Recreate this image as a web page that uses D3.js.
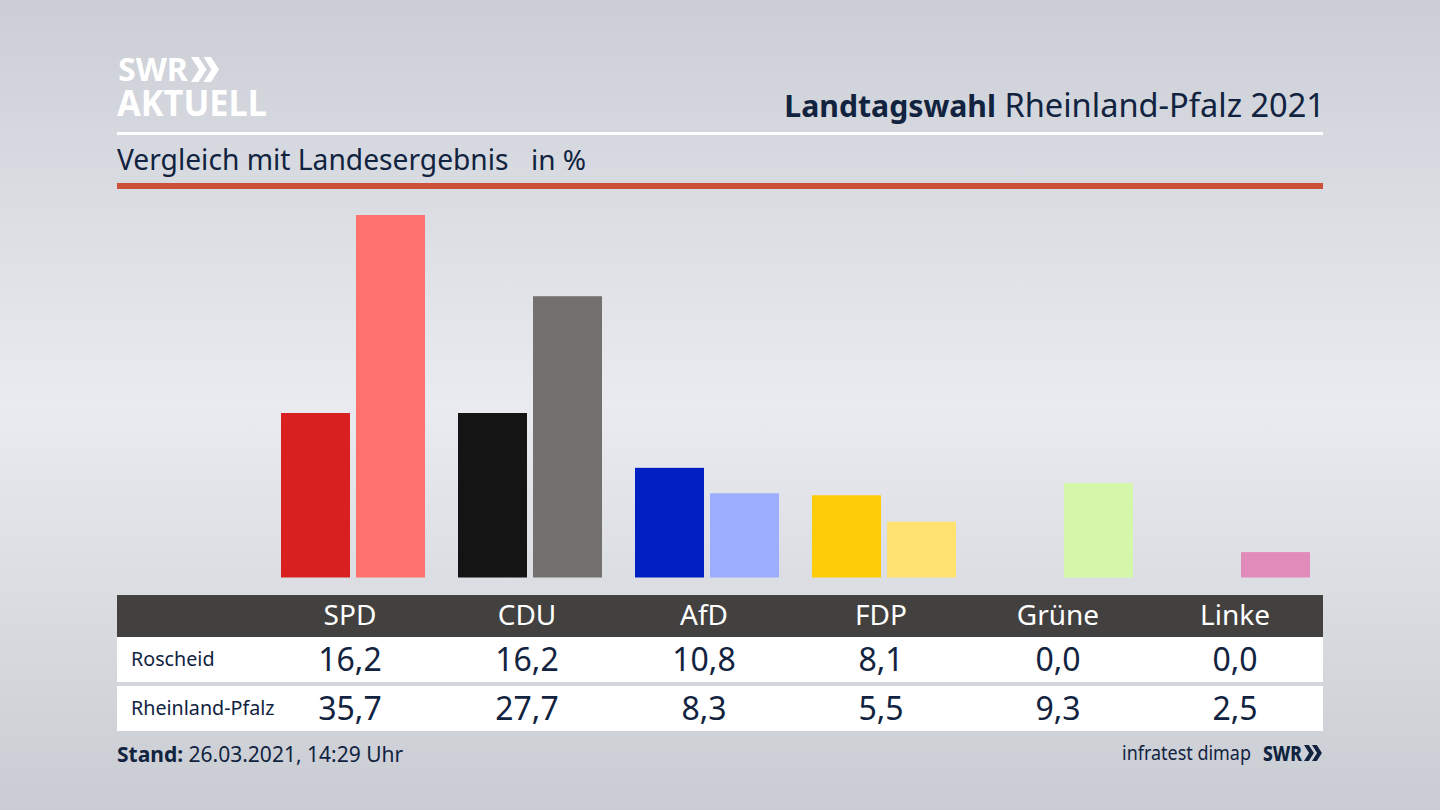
<!DOCTYPE html>
<html>
<head>
<meta charset="utf-8">
<script src="https://cdn.jsdelivr.net/npm/d3@7"></script>
<style>
html, body { margin: 0; padding: 0; background: #dfe1e6; }
svg { display: block; }
text { font-family: "Noto Sans", sans-serif; fill: #11233f; }
</style>
</head>
<body>
<svg id="chart" width="1440" height="810"></svg>
<script>
// Values
var parties = ["SPD", "CDU", "AfD", "FDP", "Grüne", "Linke"];
var rowNames = ["Roscheid", "Rheinland-Pfalz"];
var roscheid = [16.2, 16.2, 10.8, 8.1, 0.0, 0.0];
var landesergebnis = [35.7, 27.7, 8.3, 5.5, 9.3, 2.5];
var colorsDark = ["#d7201f", "#141414", "#0020c4", "#ffcc0a", "#8fd14f", "#c0307f"];
var colorsLight = ["#ff716d", "#73716f", "#9eaeff", "#ffe26f", "#d4f7aa", "#e08bb9"];

var svg = d3.select("#chart");

// background gradient
var defs = svg.append("defs");
var grad = defs.append("linearGradient").attr("id", "bg").attr("x1", 0).attr("y1", 0).attr("x2", 0).attr("y2", 1);
grad.append("stop").attr("offset", "0%").attr("stop-color", "#cbced5");
grad.append("stop").attr("offset", "50%").attr("stop-color", "#e9ebf0");
grad.append("stop").attr("offset", "100%").attr("stop-color", "#c9ccd2");
svg.append("rect").attr("width", 1440).attr("height", 810).attr("fill", "url(#bg)");

// scales
var x = d3.scaleBand().domain(parties).range([262, 1324]);
var xInner = d3.scaleBand().domain([0, 1]).range([19, 163]).paddingInner(0.08);
var y = d3.scaleLinear().domain([0, 35.7]).range([577.5, 215]);

// header
svg.append("text").attr("x", 118).attr("y", 81).attr("font-size", 33).attr("font-weight", 700)
  .attr("textLength", 70).attr("lengthAdjust", "spacingAndGlyphs")
  .style("fill", "#fff").text("SWR");
svg.append("text").attr("x", 117).attr("y", 116).attr("font-size", 36).attr("font-weight", 700)
  .attr("textLength", 150).attr("lengthAdjust", "spacingAndGlyphs")
  .style("fill", "#fff").text("AKTUELL");

function chevrons(x0, y0, h, color) {
  var w = h * 0.62, t = h * 0.3;
  [0, 1].forEach(function(i) {
    var p = d3.path();
    var dx = x0 + i * h * 0.5;
    p.moveTo(dx, y0);
    p.lineTo(dx + t, y0);
    p.lineTo(dx + w, y0 + h / 2);
    p.lineTo(dx + t, y0 + h);
    p.lineTo(dx, y0 + h);
    p.lineTo(dx + w - t, y0 + h / 2);
    p.closePath();
    svg.append("path").attr("d", p.toString()).attr("fill", color);
  });
}
chevrons(191, 57, 25, "#fff");

svg.append("text").attr("x", 1325).attr("y", 117).attr("text-anchor", "end").attr("font-size", 32.6)
  .html('<tspan font-weight="700" font-size="30.2">Landtagswahl</tspan> Rheinland-Pfalz 2021');
svg.append("rect").attr("x", 117).attr("y", 132).attr("width", 1206).attr("height", 3).attr("fill", "#fff");
svg.append("text").attr("x", 117).attr("y", 170).attr("font-size", 28.2).text("Vergleich mit Landesergebnis");
svg.append("text").attr("x", 531).attr("y", 170).attr("font-size", 28).text("in %");
svg.append("rect").attr("x", 117).attr("y", 183).attr("width", 1206).attr("height", 6).attr("fill", "#cc5038");

// bars
var groups = svg.append("g").selectAll("g").data(parties).join("g")
  .attr("transform", function(d) { return "translate(" + x(d) + ",0)"; });

groups.append("rect")
  .attr("x", xInner(0)).attr("width", xInner.bandwidth())
  .attr("y", function(d, i) { return y(roscheid[i]); })
  .attr("height", function(d, i) { return y(0) - y(roscheid[i]); })
  .attr("fill", function(d, i) { return colorsDark[i]; });

groups.append("rect")
  .attr("x", xInner(1)).attr("width", xInner.bandwidth())
  .attr("y", function(d, i) { return y(landesergebnis[i]); })
  .attr("height", function(d, i) { return y(0) - y(landesergebnis[i]); })
  .attr("fill", function(d, i) { return colorsLight[i]; });

// table
svg.append("rect").attr("x", 117).attr("y", 595).attr("width", 1206).attr("height", 42).attr("fill", "#424140");
svg.append("rect").attr("x", 117).attr("y", 637).attr("width", 1206).attr("height", 45).attr("fill", "#fff");
svg.append("rect").attr("x", 117).attr("y", 686).attr("width", 1206).attr("height", 45).attr("fill", "#fff");

var fmt = function(v) { return v.toFixed(1).replace(".", ","); };

svg.append("g").selectAll("text").data(parties).join("text")
  .attr("x", function(d) { return x(d) + x.bandwidth() / 2 - 0.5; })
  .attr("y", 625).attr("text-anchor", "middle").attr("font-size", 28)
  .style("fill", "#fff").text(function(d) { return d; });

[roscheid, landesergebnis].forEach(function(row, r) {
  var base = r === 0 ? 671 : 720;
  svg.append("text").attr("x", 131).attr("y", base - 5).attr("font-size", 19.7).text(rowNames[r]);
  svg.append("g").selectAll("text").data(row).join("text")
    .attr("x", function(d, i) { return x(parties[i]) + x.bandwidth() / 2 - 0.5; })
    .attr("y", base).attr("text-anchor", "middle").attr("font-size", 32)
    .text(fmt);
});

// footer
svg.append("text").attr("x", 117).attr("y", 762).attr("font-size", 21)
  .html('<tspan font-weight="700">Stand:</tspan> 26.03.2021, 14:29 Uhr');
svg.append("text").attr("x", 1122).attr("y", 760).attr("font-size", 20)
  .attr("textLength", 129).attr("lengthAdjust", "spacingAndGlyphs").text("infratest dimap");
svg.append("text").attr("x", 1263).attr("y", 761).attr("font-size", 21).attr("font-weight", 800)
  .attr("textLength", 39).attr("lengthAdjust", "spacingAndGlyphs").text("SWR");
chevrons(1304, 745, 16, "#11233f");
</script>
</body>
</html>
